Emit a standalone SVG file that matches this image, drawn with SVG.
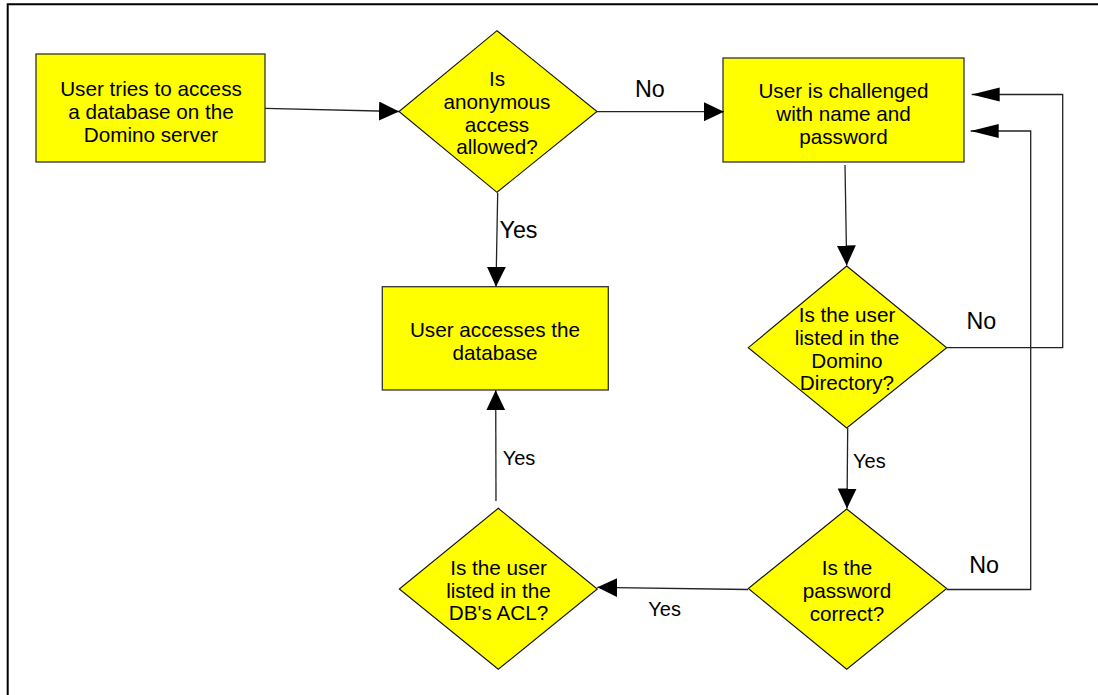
<svg xmlns="http://www.w3.org/2000/svg" width="1098" height="695" viewBox="0 0 1098 695">
<style>
.box{fill:#ffff00;stroke:#333;stroke-width:1.3}
.dia{fill:#ffff00;stroke:#111;stroke-width:1.1}
.t{font-family:"Liberation Sans",Arial,sans-serif;font-size:20.7px;fill:#000;text-anchor:middle}
.lbl{font-family:"Liberation Sans",Arial,sans-serif;fill:#000}
.big{font-size:23.3px}
.sm{font-size:20px}
.c{fill:none;stroke:#222;stroke-width:1.3}
</style>
<defs>
<marker id="a" markerUnits="userSpaceOnUse" markerWidth="21" markerHeight="19" refX="20" refY="9.5" orient="auto"><path d="M0,0 L20,9.5 L0,19 Z" fill="#000"/></marker>
<marker id="n" markerUnits="userSpaceOnUse" markerWidth="29" markerHeight="15" refX="28" refY="7" orient="auto"><path d="M0,0 L28,7 L0,14 Z" fill="#000"/></marker>
</defs>
<path d="M7.7,695 V4.3 H1098" fill="none" stroke="#000" stroke-width="2"/>
<g id="n1">
<rect class="box" x="36" y="54" width="229" height="108"/>
<text class="t"><tspan x="151" y="95.5">User tries to access</tspan><tspan x="151" y="118.5">a database on the</tspan><tspan x="151" y="141.5">Domino server</tspan></text>
</g>
<g id="n2">
<polygon class="dia" points="497,30.7 597,111.5 497,192.3 399,111.5"/>
<text class="t"><tspan x="497" y="86">Is</tspan><tspan x="497" y="108.7">anonymous</tspan><tspan x="497" y="131.5">access</tspan><tspan x="497" y="154.3">allowed?</tspan></text>
</g>
<g id="n3">
<rect class="box" x="723" y="58" width="241" height="104"/>
<text class="t"><tspan x="843.5" y="98.3">User is challenged</tspan><tspan x="843.5" y="121">with name and</tspan><tspan x="843.5" y="143.8">password</tspan></text>
</g>
<g id="n4">
<rect class="box" x="382.3" y="286.7" width="226" height="103.3"/>
<text class="t"><tspan x="495" y="336.7">User accesses the</tspan><tspan x="495" y="360">database</tspan></text>
</g>
<g id="n5">
<polygon class="dia" points="846.7,266 946.7,347.7 846.7,428 748.3,347.7"/>
<text class="t"><tspan x="847" y="322">Is the user</tspan><tspan x="847" y="345">listed in the</tspan><tspan x="847" y="367.5">Domino</tspan><tspan x="847" y="390">Directory?</tspan></text>
</g>
<g id="n6">
<polygon class="dia" points="846.7,509 946.7,588.5 846.7,669.3 748.3,588.5"/>
<text class="t"><tspan x="847" y="575">Is the</tspan><tspan x="847" y="598">password</tspan><tspan x="847" y="621">correct?</tspan></text>
</g>
<g id="n7">
<polygon class="dia" points="498.3,508.3 597.3,589 498.3,669.3 399.3,589"/>
<text class="t"><tspan x="498.5" y="575">Is the user</tspan><tspan x="498.5" y="597.5">listed in the</tspan><tspan x="498.5" y="620">DB's ACL?</tspan></text>
</g>
<g id="connectors">
<path class="c" d="M265,108.3 L399,111.5" marker-end="url(#a)"/>
<path class="c" d="M597,111.7 L724,111.7" marker-end="url(#a)"/>
<path class="c" d="M497.7,192.7 L496,286.7" marker-end="url(#a)"/>
<path class="c" d="M845,165 L846.7,265.5" marker-end="url(#a)"/>
<path class="c" d="M847.7,428 L847,508.5" marker-end="url(#a)"/>
<path class="c" d="M946.7,347.7 H1062.7 V94.5 H971.7" marker-end="url(#n)"/>
<path class="c" d="M946.7,589.5 H1030.7 V131 H970.7" marker-end="url(#n)"/>
<path class="c" d="M748,589.5 L597.3,587.3" marker-end="url(#a)"/>
<path class="c" d="M496,501 L495.7,390.3" marker-end="url(#a)"/>
<text class="lbl big" x="635" y="97.3">No</text>
<text class="lbl big" x="499.5" y="238.3">Yes</text>
<text class="lbl big" x="966.5" y="329">No</text>
<text class="lbl sm" x="853" y="468">Yes</text>
<text class="lbl big" x="969.3" y="573">No</text>
<text class="lbl sm" x="648.3" y="615.7">Yes</text>
<text class="lbl sm" x="502.7" y="465">Yes</text>
</g>
</svg>
